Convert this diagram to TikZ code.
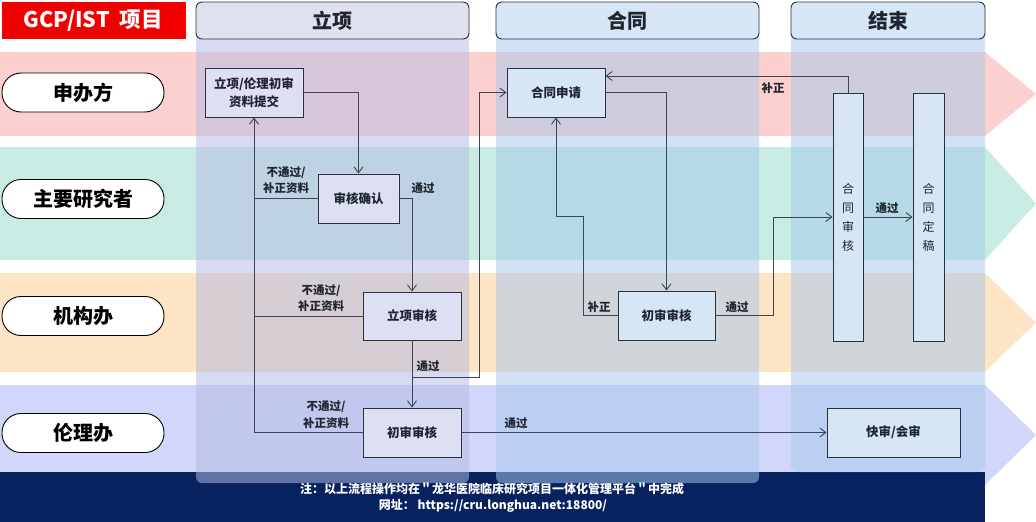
\documentclass[tikz,border=0pt]{standalone}
\usepackage{fontspec}
\setmainfont{Noto Sans CJK SC}
\usetikzlibrary{arrows.meta}
\definecolor{lanepink}{HTML}{FDD0D0}
\definecolor{laneteal}{HTML}{C8ECE4}
\definecolor{laneorange}{HTML}{FDE4C4}
\definecolor{lanelav}{HTML}{D2D6FA}
\definecolor{footnavy}{HTML}{07225F}
\definecolor{titlered}{HTML}{F00000}
\definecolor{colLx}{HTML}{B5BBE2}
\definecolor{colHt}{HTML}{A6C9EB}
\definecolor{hdLx}{HTML}{DFE1EF}
\definecolor{hdHt}{HTML}{D6E6F4}
\definecolor{boxLx}{HTML}{DDE0F2}
\definecolor{boxHt}{HTML}{D6E6F5}
\definecolor{edgegray}{HTML}{2A313C}
\definecolor{linegray}{HTML}{3D4652}
\definecolor{txtdark}{HTML}{1F2630}
\begin{document}
\begin{tikzpicture}[x=1pt,y=-1pt,
  colbody/.style={fill opacity=0.52, rounded corners=6pt},
  header/.style={draw=edgegray, line width=0.9pt, rounded corners=6pt},
  hdtext/.style={font=\fontsize{20}{24}\selectfont\bfseries, text=txtdark},
  pill/.style={draw=black, fill=white, line width=0.9pt, rounded corners=19pt,
    minimum width=162pt, minimum height=39pt, inner sep=0pt,
    font=\fontsize{20}{24}\selectfont\bfseries, text=black},
  procbox/.style={draw=edgegray, line width=0.9pt, inner sep=0pt, align=center,
    font=\fontsize{12.5}{18}\selectfont\bfseries, text=txtdark},
  vbox/.style={draw=edgegray, line width=0.9pt, inner sep=0pt, align=center,
    fill=boxHt, font=\fontsize{12}{19}\selectfont, text=txtdark},
  lbl/.style={font=\fontsize{11.5}{16.5}\selectfont\bfseries, text=txtdark, align=center, inner sep=0pt},
  foot/.style={font=\fontsize{12}{14}\selectfont\bfseries, text=white},
  conn/.style={draw=linegray, line width=0.9pt},
  arr/.style={conn, -{Straight Barb[length=6pt,width=9pt]}}
]
\useasboundingbox (0,0) rectangle (1036,522);
\fill[white] (0,0) rectangle (1036,522);

% lanes
\fill[lanepink]   (0,52)  -- (985,52)  -- (1036,94)    -- (985,136) -- (0,136) -- cycle;
\fill[laneteal]   (0,147) -- (985,147) -- (1036,203.5) -- (985,260) -- (0,260) -- cycle;
\fill[laneorange] (0,273) -- (985,273) -- (1036,322.5) -- (985,372) -- (0,372) -- cycle;
\fill[lanelav]    (0,385) -- (985,385) -- (1036,435)   -- (985,485) -- (0,485) -- cycle;

% footer
\fill[footnavy] (0,472) rectangle (985,522);

% column bodies
\fill[colLx, colbody] (196,2) rectangle (469,483);
\fill[colHt, colbody] (496,2) rectangle (759,483);
\fill[colHt, colbody] (791,2) rectangle (985,472);

% title
\fill[titlered] (2,2) rectangle (186,39);
\node[font=\fontsize{21.5}{25}\selectfont\bfseries, text=white] (title) at (93,20.5) {GCP/IST\ \ 项目};

% headers
\filldraw[hdLx, header] (196,2) rectangle (469,39);
\filldraw[hdHt, header] (496,2) rectangle (759,39);
\filldraw[hdHt, header] (791,2) rectangle (985,39);
\node[hdtext] (hlx) at (332.5,20.5) {立项};
\node[hdtext] (hht) at (627.5,20.5) {合同};
\node[hdtext] (hjs) at (888,20.5) {结束};

% lane labels
\node[pill] (l1) at (83,92.5) {申办方};
\node[pill] (l2) at (83,199) {主要研究者};
\node[pill] (l3) at (83,316) {机构办};
\node[pill] (l4) at (83,433) {伦理办};

% boxes
\node[procbox, fill=boxLx, minimum width=98pt, minimum height=49pt] (sub) at (254,92.5) {立项/伦理初审\\资料提交};
\node[procbox, fill=boxLx, minimum width=81pt, minimum height=49pt] (confirm) at (358.5,198.5) {审核确认};
\node[procbox, fill=boxLx, minimum width=98pt, minimum height=48pt] (lxsh) at (412,316) {立项审核};
\node[procbox, fill=boxLx, minimum width=98pt, minimum height=49pt] (ethrev) at (412,432.5) {初审审核};
\node[procbox, fill=boxHt, minimum width=98pt, minimum height=49pt] (htsq) at (556,92.5) {合同申请};
\node[procbox, fill=boxHt, minimum width=97pt, minimum height=49pt] (htrev) at (666.5,315.5) {初审审核};
\node[vbox, minimum width=30pt, minimum height=248pt] (htsh) at (848,217) {合\\同\\审\\核};
\node[vbox, minimum width=31pt, minimum height=248pt] (htdg) at (928.5,217) {合\\同\\定\\稿};
\node[procbox, fill=boxHt, minimum width=133pt, minimum height=49pt] (kshs) at (893.5,432.5) {快审/会审};

% junction coordinates
\coordinate (j1) at (412,377);
\coordinate (j2) at (479,377);
\coordinate (k1) at (583,216);
\coordinate (k2) at (773,217);
\coordinate (k3) at (848,76);

% connectors
\draw[arr] (sub.east) -| (confirm.north);
\draw[arr] (confirm.east) -| (lxsh.north);
\draw[arr] (lxsh.south) -- (ethrev.north);
\draw[arr] (j1) -- (j2) |- (htsq.west);
\draw[arr] (ethrev.west) -| (sub.south);
\draw[conn] (lxsh.west) -- (lxsh.west -| sub.south);
\draw[conn] (confirm.west) -- (confirm.west -| sub.south);
\draw[arr] (ethrev.east) -- (kshs.west);
\draw[arr] (htsq.east) -| (htrev.north);
\draw[arr] (htrev.west) -| (k1) -| (htsq.south);
\draw[arr] (htrev.east) -| (k2) -- (htsh.west);
\draw[arr] (htsh.east) -- (htsh.east -| htdg.west);
\draw[arr] (htsh.north) -- (k3) -- (k3 -| htsq.east);

% connector labels
\node[lbl] (t1) at (286,180) {不通过/\\补正资料};
\node[lbl] (t2) at (321,298) {不通过/\\补正资料};
\node[lbl] (t3) at (326,414.5) {不通过/\\补正资料};
\node[lbl] (p1) at (423,188) {通过};
\node[lbl] (p2) at (428,366) {通过};
\node[lbl] (p3) at (516,423) {通过};
\node[lbl] (b1) at (599,307) {补正};
\node[lbl] (p4) at (737,307) {通过};
\node[lbl] (p5) at (887,208) {通过};
\node[lbl] (b2) at (773,88) {补正};

% footer text
\node[foot] (f1) at (492,489) {注：以上流程操作均在＂龙华医院临床研究项目一体化管理平台＂中完成};
\node[foot] (f2) at (493,506) {网址：\ https://cru.longhua.net:18800/};
\end{tikzpicture}
\end{document}
